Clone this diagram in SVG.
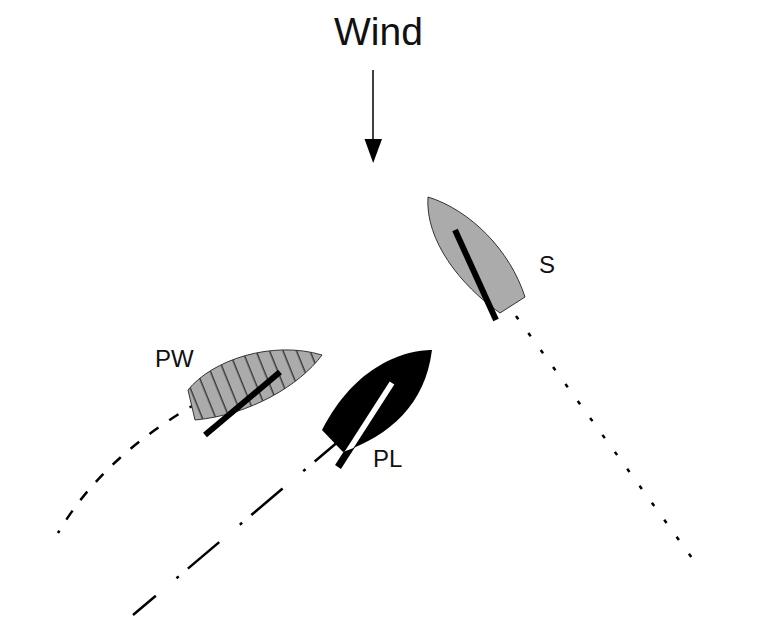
<svg xmlns="http://www.w3.org/2000/svg" width="764" height="633" viewBox="0 0 764 633">
  <style>
    .lbl { font-family: "Liberation Sans", Arial, sans-serif; font-size: 24px; fill: #111; }
    .hull { stroke: #333; stroke-width: 1; }
    .boom { stroke: #000; stroke-width: 6; stroke-linecap: butt; fill: none; }
    .track { fill: none; stroke: #000; stroke-width: 2.5; }
  </style>
  <defs>
    <pattern id="stripes" patternUnits="userSpaceOnUse" width="12.5" height="12" patternTransform="rotate(-22)">
      <rect width="12.5" height="12" fill="#ababab"/>
      <line x1="6" y1="-1" x2="6" y2="13" stroke="#222" stroke-width="1.2"/>
    </pattern>
    <clipPath id="plClip">
      <path d="M432,350 C405,350 355,365 322,430 L343,452 C390,435 425,405 432,350 Z"/>
    </clipPath>
  </defs>

  <rect width="764" height="633" fill="#fff"/>

  <g id="wind-label">
    <text x="334" y="45" font-family="Liberation Sans, Arial, sans-serif" font-size="39" fill="#111">Wind</text>
  </g>

  <g id="connectors">
    <line id="wind-arrow" x1="373" y1="70" x2="373" y2="140" stroke="#000" stroke-width="1.5"/>
    <polygon points="364.5,139 382,139 373.2,163" fill="#000"/>
    <path id="track-S" class="track" d="M516,316 L692,558" stroke-dasharray="4 17"/>
    <path id="track-PW" class="track" d="M199,402 C150,430 95,470 58,533" stroke-dasharray="11 13"/>
    <path id="track-PL" class="track" d="M346,435 L133,615" stroke-dasharray="41 12 3 27"/>
  </g>

  <g id="boat-S">
    <path class="hull" fill="#ababab" d="M428,197 C470,210 510,250 525,297 L500,313 C460,285 425,240 428,197 Z"/>
    <line class="boom" x1="455" y1="230" x2="496" y2="320"/>
    <text class="lbl" x="539" y="273">S</text>
  </g>

  <g id="boat-PW">
    <path class="hull" fill="url(#stripes)" d="M188,390 C212,360 272,340 322,355 C300,385 250,415 195,420 Z"/>
    <line class="boom" x1="280" y1="372" x2="205" y2="435"/>
    <text class="lbl" x="155" y="367">PW</text>
  </g>

  <g id="boat-PL">
    <path fill="#000" d="M432,350 C405,350 355,365 322,430 L343,452 C390,435 425,405 432,350 Z"/>
    <line x1="392" y1="383" x2="338" y2="467" stroke="#000" stroke-width="7"/>
    <line x1="392" y1="383" x2="338" y2="467" stroke="#fff" stroke-width="5.5" clip-path="url(#plClip)"/>
    <text class="lbl" x="373" y="467" font-size="25">PL</text>
  </g>
</svg>
